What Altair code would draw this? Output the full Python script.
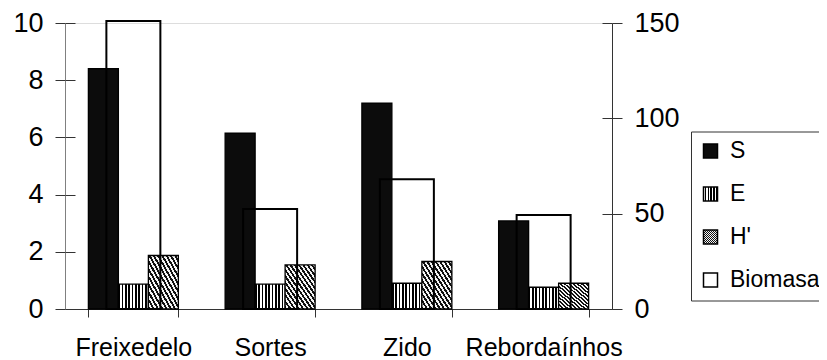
import json
import altair as alt
import pandas as pd

# ---- data ----
sites = ["Freixedelo", "Sortes", "Zido", "Rebordaínhos"]
S_vals = [8.4, 6.15, 7.2, 3.08]
E_vals = [0.87, 0.87, 0.9, 0.76]
H_vals = [1.87, 1.54, 1.66, 0.9]
biomasa_vals = [151, 52.5, 68, 49.3]
series = ["S", "E", "H'"]
legend_order = ["S", "E", "H'", "Biomasa"]
left_ticks = [0, 2, 4, 6, 8, 10]
right_ticks = [0, 50, 100, 150]

rows = []
for i, site in enumerate(sites):
    for name, vals in zip(series, [S_vals, E_vals, H_vals]):
        rows.append({"site": site, "serie": name, "value": vals[i]})
df_bars = pd.DataFrame(rows)
df_bio = pd.DataFrame({"site": sites, "biomasa": biomasa_vals, "serie": ["Biomasa"] * len(sites)})


# ---- pattern-like fills built as gradients ----
def stripes(n, x1, y1, x2, y2, dark="#000000", light="#ffffff", frac=0.5):
    stops = []
    for i in range(n):
        a = i / n
        b = a + frac / n
        c = (i + 1) / n
        stops += [
            {"offset": round(a, 4), "color": dark},
            {"offset": round(b, 4), "color": dark},
            {"offset": round(b, 4), "color": light},
            {"offset": round(c, 4), "color": light},
        ]
    return {"gradient": "linear", "x1": x1, "y1": y1, "x2": x2, "y2": y2, "stops": stops}


fill_S = {"gradient": "linear", "x1": 0, "y1": 0, "x2": 1, "y2": 0,
          "stops": [{"offset": 0, "color": "#0c0c0c"}, {"offset": 1, "color": "#0c0c0c"}]}
fill_E = stripes(9, 0, 0, 1, 0, frac=0.5)
fill_H = stripes(14, 0, 1, 1, 0, dark="#111111", light="#f4f4f4", frac=0.5)

fill_range = [
    {"expr": json.dumps(fill_S)},
    {"expr": json.dumps(fill_E)},
    {"expr": json.dumps(fill_H)},
    "white",
]

FONT = "Liberation Sans"
LEFT_GRAY = "#808080"
DARK = "#333333"
NUM_SIZE = 27

x_enc = alt.X(
    "site:N",
    sort=sites,
    scale=alt.Scale(domain=sites, paddingInner=0.342, paddingOuter=0.171),
    axis=alt.Axis(
        title=None, labelAngle=0, tickBand="extent", tickSize=8,
        labelFontSize=25, labelPadding=18, labelColor="black",
        domainColor=DARK, tickColor=DARK, labelFont=FONT,
    ),
)

bars = alt.Chart(df_bars).mark_bar(stroke="black", strokeWidth=1.3).encode(
    x=x_enc,
    xOffset=alt.XOffset(
        "serie:N", sort=series,
        scale=alt.Scale(domain=series, paddingInner=0, paddingOuter=0),
    ),
    y=alt.Y(
        "value:Q",
        scale=alt.Scale(domain=[0, 10], nice=False),
        axis=alt.Axis(
            orient="left", values=left_ticks, title=None, grid=False,
            tickSize=10, labelFontSize=NUM_SIZE, labelPadding=12, labelColor="black",
            domainColor=LEFT_GRAY, tickColor=DARK, labelFont=FONT,
        ),
    ),
    fill=alt.Fill(
        "serie:N",
        scale=alt.Scale(domain=legend_order, range=fill_range),
        legend=alt.Legend(
            title=None, orient="none", legendX=626, legendY=108.5,
            symbolType="square", symbolSize=196, symbolStrokeColor="black",
            symbolStrokeWidth=1.5, labelFontSize=23, labelFont=FONT,
            labelColor="black", labelOffset=8, rowPadding=19, padding=8,
            strokeColor=DARK, fillColor="white", cornerRadius=0,
        ),
    ),
)

bio = alt.Chart(df_bio).mark_bar(
    fillOpacity=0, stroke="black", strokeWidth=2, width=alt.RelativeBandSize(0.6)
).encode(
    x=alt.X("site:N", sort=sites),
    y=alt.Y(
        "biomasa:Q",
        scale=alt.Scale(domain=[0, 150], nice=False),
        axis=alt.Axis(
            orient="right", values=right_ticks, title=None, grid=False,
            tickSize=10, labelFontSize=NUM_SIZE, labelPadding=12, labelColor="black",
            domainColor=DARK, tickColor=DARK, labelFont=FONT,
        ),
    ),
    fill=alt.Fill("serie:N"),
)

# inner half of the right axis' crossing ticks
ghost_right = alt.Chart(df_bio).mark_bar(opacity=0).encode(
    x=alt.X("site:N", sort=sites),
    y=alt.Y(
        "biomasa:Q",
        scale=alt.Scale(domain=[0, 150], nice=False),
        axis=alt.Axis(
            orient="right", offset=-10, values=right_ticks, title=None, grid=False,
            domain=False, labels=False, tickSize=10, tickColor=DARK,
        ),
    ),
)

# inner half of the left axis' crossing ticks
ghost_left = alt.Chart(df_bars).mark_bar(opacity=0).encode(
    x=alt.X("site:N", sort=sites),
    y=alt.Y(
        "value:Q",
        scale=alt.Scale(domain=[0, 10], nice=False),
        axis=alt.Axis(
            orient="left", offset=-10, values=left_ticks, title=None, grid=False,
            domain=False, labels=False, tickSize=10, tickColor=DARK,
        ),
    ),
)

chart = (
    alt.layer(bars, bio, ghost_right, ghost_left)
    .resolve_scale(y="independent")
    .properties(
        width=547, height=286,
        autosize=alt.AutoSizeParams(type="none"),
        padding={"left": 57, "top": 15, "right": 207, "bottom": 51},
    )
    .configure_view(stroke=None)
    .configure(background="white")
)

chart.save("out.html", embed_options={"renderer": "svg", "actions": False})
